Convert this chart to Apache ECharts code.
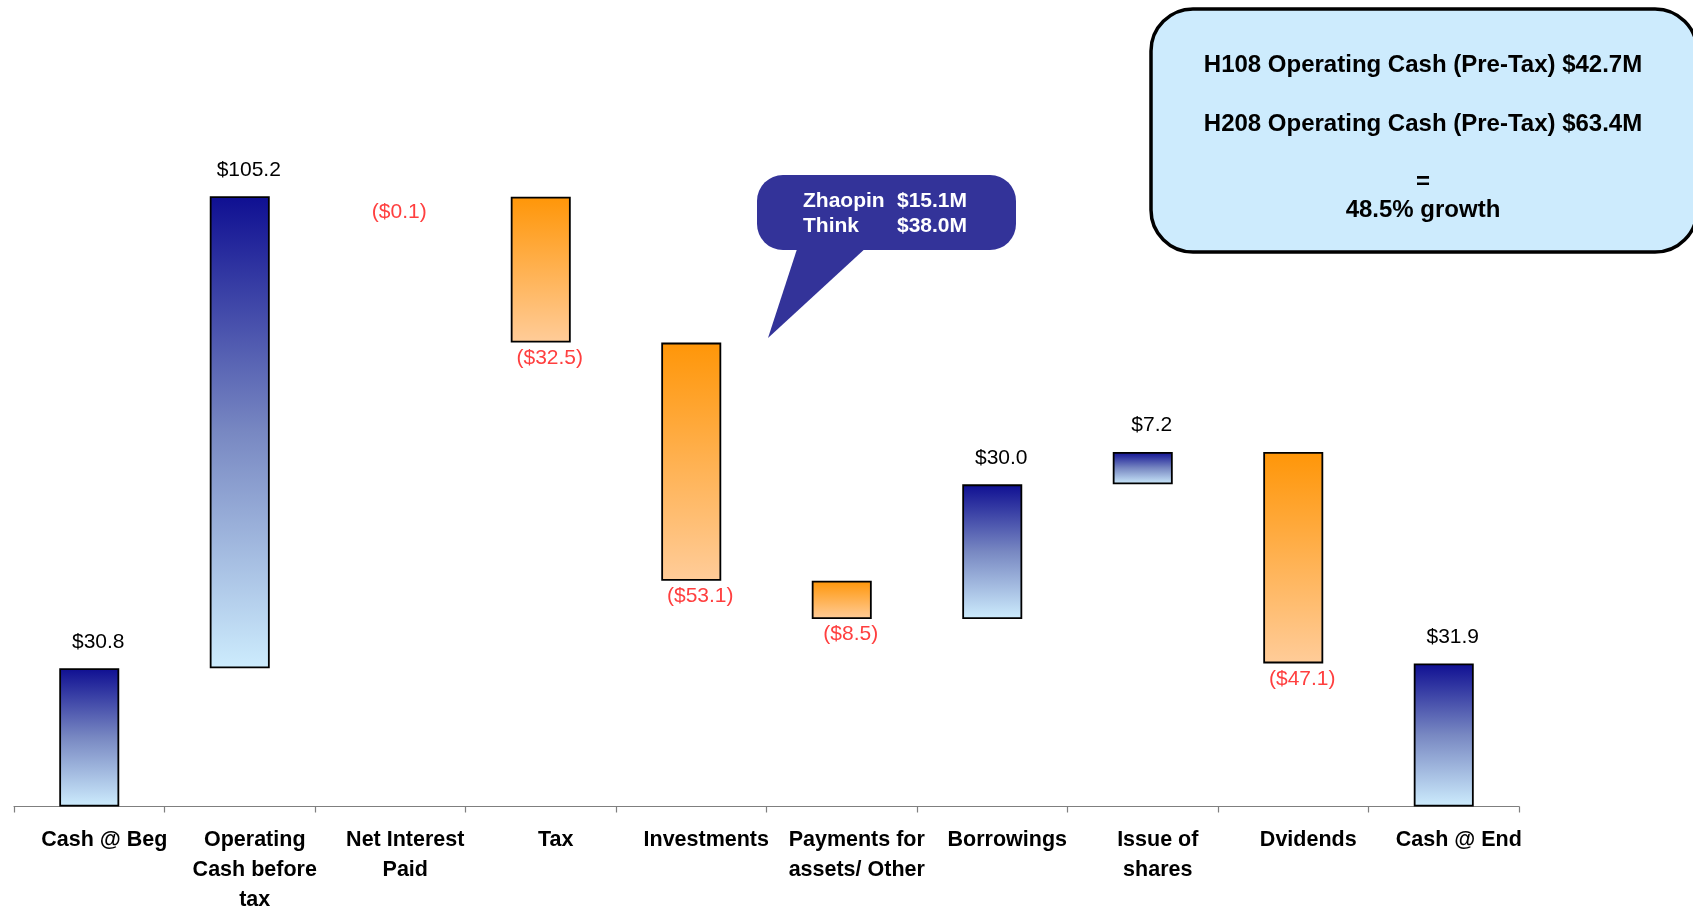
<!DOCTYPE html>
<html>
<head>
<meta charset="utf-8">
<title>Cash flow waterfall</title>
<script src="https://cdn.jsdelivr.net/npm/echarts@6/dist/echarts.min.js"></script>
<style>
  html, body { margin: 0; padding: 0; background: #ffffff; }
  #chart { width: 1693px; height: 909px; }
</style>
</head>
<body>
<div id="chart"></div>
<script>
// Cash movements ($M); first and last entries are balances drawn from zero
const categories = [
  'Cash @ Beg',
  'Operating\nCash before\ntax',
  'Net Interest\nPaid',
  'Tax',
  'Investments',
  'Payments for\nassets/ Other',
  'Borrowings',
  'Issue of\nshares',
  'Dvidends',
  'Cash @ End'
];
const amounts = [30.8, 105.2, -0.1, -32.5, -53.1, -8.5, 30.0, 7.2, -47.1, 31.9];
const isBalance = [true, false, false, false, false, false, false, false, false, true];

const summaryLines = [
  'H108 Operating Cash (Pre-Tax) $42.7M',
  'H208 Operating Cash (Pre-Tax) $63.4M',
  '=',
  '48.5% growth'
];
const acquisitionNames = ['Zhaopin', 'Think'];
const acquisitionValues = ['$15.1M', '$38.0M'];

const FONT = '"Liberation Sans", Arial, Helvetica, sans-serif';

// Waterfall geometry: invisible base + visible step
const bases = [];
const steps = [];
let running = 0;
amounts.forEach((v, i) => {
  if (isBalance[i]) {
    bases.push(0);
    steps.push(v);
    running = v;
  } else if (v >= 0) {
    bases.push(running);
    steps.push(v);
    running += v;
  } else {
    running += v;
    bases.push(running);
    steps.push(-v);
  }
});

const blueFill = new echarts.graphic.LinearGradient(0, 0, 0, 1, [
  { offset: 0, color: '#0f0f92' },
  { offset: 0.5, color: '#7888c2' },
  { offset: 1, color: '#cdecfd' }
]);
const orangeFill = new echarts.graphic.LinearGradient(0, 0, 0, 1, [
  { offset: 0, color: '#ff9608' },
  { offset: 1, color: '#ffcc99' }
]);

function fmt(v) {
  return v >= 0 ? '$' + v.toFixed(1) : '($' + Math.abs(v).toFixed(1) + ')';
}

const stepData = steps.map((h, i) => {
  const v = amounts[i];
  const positive = v >= 0;
  const tiny = Math.abs(v) < 0.5;
  return {
    value: h,
    itemStyle: {
      color: tiny ? 'rgba(0,0,0,0)' : (positive ? blueFill : orangeFill),
      borderColor: tiny ? 'rgba(0,0,0,0)' : '#000000',
      borderWidth: tiny ? 0 : 1.8
    },
    label: {
      show: true,
      position: positive ? 'top' : 'bottom',
      distance: positive ? 16 : 5,
      offset: [9, 0],
      color: positive ? '#000000' : '#ff3f3f',
      fontSize: 21,
      fontFamily: FONT,
      formatter: () => fmt(v)
    }
  };
});

const chart = echarts.init(document.getElementById('chart'), null, { renderer: 'canvas' });

const graphics = [
  // summary panel
  {
    type: 'rect',
    shape: { x: 1151, y: 9, width: 546, height: 243, r: 42 },
    style: { fill: '#cdebfd', stroke: '#000000', lineWidth: 3.5 },
    z: 10
  },
  // acquisition callout
  {
    type: 'polygon',
    shape: { points: [[798, 246], [868, 246], [768, 338]] },
    style: { fill: '#333399' },
    z: 10
  },
  {
    type: 'rect',
    shape: { x: 757, y: 175, width: 259, height: 75, r: [26, 26, 26, 26] },
    style: { fill: '#333399' },
    z: 10
  }
];

const summaryY = [65.5, 124, 182, 210.5];
summaryLines.forEach((t, i) => {
  graphics.push({
    type: 'text',
    x: 1423,
    y: summaryY[i],
    style: {
      text: t,
      fill: '#000000',
      font: 'bold 24px ' + FONT,
      textAlign: 'center',
      textVerticalAlign: 'middle'
    },
    z: 11
  });
});

const calloutY = [201, 226];
acquisitionNames.forEach((name, i) => {
  graphics.push({
    type: 'text',
    x: 803,
    y: calloutY[i],
    style: { text: name, fill: '#ffffff', font: 'bold 21px ' + FONT, textAlign: 'left', textVerticalAlign: 'middle' },
    z: 11
  });
  graphics.push({
    type: 'text',
    x: 897,
    y: calloutY[i],
    style: { text: acquisitionValues[i], fill: '#ffffff', font: 'bold 21px ' + FONT, textAlign: 'left', textVerticalAlign: 'middle' },
    z: 11
  });
});

chart.setOption({
  backgroundColor: '#ffffff',
  animation: false,
  grid: {
    left: 14,
    right: 174,
    top: 133.5,
    bottom: 102.5,
    containLabel: false,
    outerBoundsMode: 'none'
  },
  xAxis: {
    type: 'category',
    data: categories,
    axisLine: { show: true, lineStyle: { color: '#7f7f7f', width: 1.2 } },
    axisTick: { show: true, length: 6, lineStyle: { color: '#7f7f7f', width: 1.2 } },
    axisLabel: {
      interval: 0,
      margin: 19,
      color: '#000000',
      fontSize: 21.5,
      fontWeight: 'bold',
      fontFamily: FONT,
      lineHeight: 30,
      align: 'center',
      padding: [0, 0, 0, 30]
    },
    splitLine: { show: false }
  },
  yAxis: {
    type: 'value',
    min: 0,
    max: 150,
    show: false,
    splitLine: { show: false }
  },
  series: [
    {
      name: 'base',
      type: 'bar',
      stack: 'flow',
      silent: true,
      barWidth: 60,
      itemStyle: { color: 'transparent', borderColor: 'transparent' },
      data: bases
    },
    {
      name: 'movement',
      type: 'bar',
      stack: 'flow',
      barWidth: 60,
      data: stepData
    }
  ],
  graphic: graphics
});
</script>
</body>
</html>
